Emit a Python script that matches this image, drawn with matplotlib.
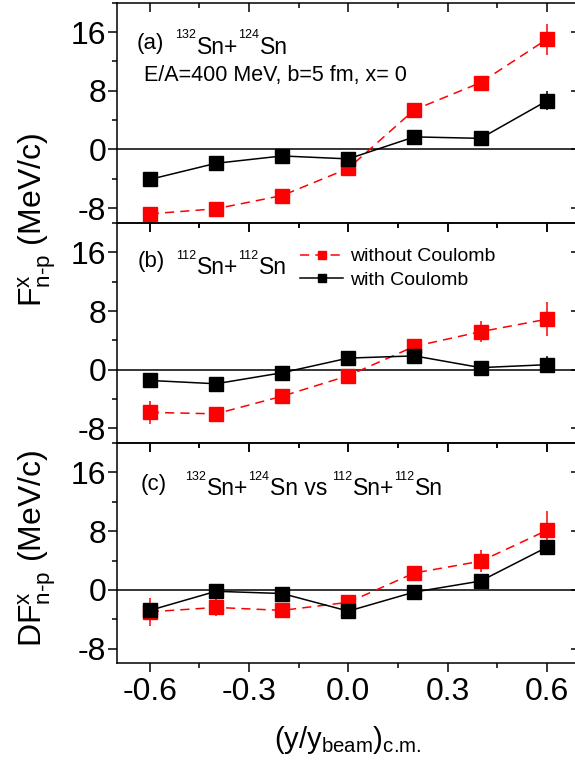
import matplotlib
matplotlib.use("Agg")
import matplotlib.pyplot as plt
from matplotlib.ticker import MultipleLocator, FixedLocator

plt.rcParams['font.family'] = ['Liberation Sans', 'DejaVu Sans']
plt.rcParams['mathtext.fontset'] = 'custom'
plt.rcParams['mathtext.rm'] = 'Liberation Sans'
plt.rcParams['mathtext.it'] = 'Liberation Sans:italic'
plt.rcParams['mathtext.default'] = 'regular'
plt.rcParams['axes.unicode_minus'] = False

# reduced rapidity (y/y_beam)_c.m.
rap = [-0.6, -0.4, -0.2, 0.0, 0.2, 0.4, 0.6]
xticks = [-0.6, -0.3, 0.0, 0.3, 0.6]
yticks = [-8, 0, 8, 16]

# (a) 132Sn+124Sn
a_nocoul = [-8.8, -8.1, -6.3, -2.6, 5.4, 9.1, 15.0]
a_nocoul_err = [1.0, 0.7, 0.6, 0.6, 0.7, 0.8, 2.1]
a_coul = [-4.1, -1.9, -0.9, -1.3, 1.7, 1.5, 6.6]
a_coul_err = [0.6, 0.5, 0.5, 0.6, 0.6, 0.6, 1.3]

# (b) 112Sn+112Sn
b_nocoul = [-5.8, -6.0, -3.6, -0.8, 3.2, 5.2, 6.9]
b_nocoul_err = [1.6, 0.7, 0.7, 0.6, 0.8, 1.4, 2.3]
b_coul = [-1.45, -1.9, -0.4, 1.6, 1.9, 0.3, 0.7]
b_coul_err = [0.6, 0.6, 0.5, 0.6, 0.7, 0.6, 1.2]

# (c) difference of the two systems
c_nocoul = [-3.0, -2.4, -2.8, -1.7, 2.3, 3.9, 8.1]
c_nocoul_err = [1.9, 1.2, 0.8, 0.7, 0.8, 1.5, 2.7]
c_coul = [-2.8, -0.2, -0.5, -2.9, -0.3, 1.2, 5.8]
c_coul_err = [0.8, 0.6, 0.6, 0.7, 0.6, 0.7, 1.0]

LW = 1.1
XLIM = (-0.7, 0.7)
YLIM = (-10, 20)


def set_locators(ax):
    ax.xaxis.set_major_locator(FixedLocator(xticks))
    ax.xaxis.set_minor_locator(MultipleLocator(0.15))
    ax.yaxis.set_major_locator(FixedLocator(yticks))
    ax.yaxis.set_minor_locator(MultipleLocator(4))


def style_axes(ax, show_xlabels):
    ax.set_xlim(*XLIM)
    ax.set_ylim(*YLIM)

    # twins only carry the inward ticks on the right and top sides
    ax_r = ax.twinx()
    ax_r.set_ylim(*YLIM)
    ax_t = ax.twiny()
    ax_t.set_xlim(*XLIM)
    for tw in (ax_r, ax_t):
        set_locators(tw)
        for sp in tw.spines.values():
            sp.set_visible(False)
        tw.patch.set_visible(False)
    ax_r.tick_params(axis='y', which='both', direction='in', width=LW,
                     left=False, right=True, labelleft=False, labelright=False)
    ax_t.tick_params(axis='x', which='both', direction='in', width=LW,
                     bottom=False, top=True, labelbottom=False, labeltop=False)
    for tw in (ax_r, ax_t):
        tw.tick_params(which='major', length=6.5)
        tw.tick_params(which='minor', length=3.5)

    set_locators(ax)
    ax.set_xticklabels(['%.1f' % t for t in xticks])
    ax.tick_params(which='both', direction='out', top=False, right=False,
                   left=True, bottom=True, width=LW, labelsize=23,
                   labelbottom=show_xlabels, labelleft=True)
    ax.tick_params(axis='y', which='both', pad=1)
    ax.tick_params(axis='x', which='both', pad=3.5)
    ax.tick_params(which='major', length=6.5)
    ax.tick_params(which='minor', length=3.5)
    for sp in ax.spines.values():
        sp.set_linewidth(LW)
    ax.spines['right'].set_visible(False)
    ax.patch.set_alpha(0)


def draw_panel(ax, nocoul, nocoul_err, coul, coul_err):
    ax.axhline(0, color='black', lw=LW, zorder=1)
    red = ax.errorbar(rap, nocoul, yerr=nocoul_err, color='red', ls=(0, (6, 4)),
                      lw=LW, elinewidth=LW, capsize=0, marker='s', ms=9.5,
                      zorder=2)
    blk = ax.errorbar(rap, coul, yerr=coul_err, color='black', ls='-',
                      lw=LW, elinewidth=LW, capsize=0, marker='s', ms=9.5,
                      zorder=3)
    return red[0], blk[0]


def iso_text(ax, x, y, parts, size=16.5, sup_size=9, rise=11):
    # chain of text pieces, superscripts smaller and raised
    prev = None
    for s, sup, gap in parts:
        fs = sup_size if sup else size
        dy = rise if sup else 0
        if prev is None:
            prev = ax.annotate(s, xy=(x, y), xycoords='axes fraction',
                               xytext=(gap, dy), textcoords='offset points',
                               fontsize=fs, va='baseline', ha='left')
        else:
            prev = ax.annotate(s, xy=(1, y), xycoords=(prev, ax.transAxes),
                               xytext=(gap, dy), textcoords='offset points',
                               fontsize=fs, va='baseline', ha='left')


fig = plt.figure(figsize=(5.75, 7.65), dpi=100)
left, width, height = 0.203, 0.8054, 0.2876
ax_a = fig.add_axes([left, 0.7089, width, height])
ax_b = fig.add_axes([left, 0.4207, width, height])
ax_c = fig.add_axes([left, 0.1331, width, height])

draw_panel(ax_a, a_nocoul, a_nocoul_err, a_coul, a_coul_err)
red_line, blk_line = draw_panel(ax_b, b_nocoul, b_nocoul_err, b_coul, b_coul_err)
draw_panel(ax_c, c_nocoul, c_nocoul_err, c_coul, c_coul_err)

style_axes(ax_a, False)
style_axes(ax_b, False)
style_axes(ax_c, True)

# panel annotations
ax_a.text(0.044, 0.790, '(a)', transform=ax_a.transAxes, fontsize=16, va='baseline')
iso_text(ax_a, 0.126, 0.768, [('132', True, 0), ('Sn+', False, 0.5),
                              ('124', True, 0), ('Sn', False, 0.5)])
ax_a.text(0.058, 0.643, 'E/A=400 MeV, b=5 fm, x= 0', transform=ax_a.transAxes,
          fontsize=15.5, va='baseline')

ax_b.text(0.046, 0.800, '(b)', transform=ax_b.transAxes, fontsize=16, va='baseline')
iso_text(ax_b, 0.128, 0.768, [('112', True, 0), ('Sn+', False, 0.5),
                              ('112', True, 0), ('Sn', False, 0.5)])

ax_c.text(0.052, 0.786, '(c)', transform=ax_c.transAxes, fontsize=16, va='baseline')
iso_text(ax_c, 0.148, 0.763, [('132', True, 0), ('Sn+', False, 0.5),
                              ('124', True, 0), ('Sn vs', False, 0.5),
                              ('112', True, 3.5), ('Sn+', False, 0.5),
                              ('112', True, 0), ('Sn', False, 0.5)])

ax_b.legend([red_line, blk_line], ['without Coulomb', 'with Coulomb'],
            loc='upper left', bbox_to_anchor=(0.396, 0.888), frameon=False,
            fontsize=14, markerscale=0.55, handlelength=2.2, handletextpad=0.35,
            labelspacing=0.3, borderpad=0, borderaxespad=0)

# axis titles
fig.text(37 / 575, 1 - 220 / 765, r'F$^{\rm x}_{\text{n-p}}$ (MeV/c)', rotation=90,
         ha='center', va='center', fontsize=23)
fig.text(37 / 575, 1 - 548 / 765, r'DF$^{\rm x}_{\text{n-p}}$ (MeV/c)', rotation=90,
         ha='center', va='center', fontsize=23)
fig.text(348 / 575, 1 - 748 / 765, r'(y/y$_{\text{beam}}$)$_{\text{c.m.}}$',
         ha='center', va='baseline', fontsize=21)

fig.savefig('out.png', dpi=100)
